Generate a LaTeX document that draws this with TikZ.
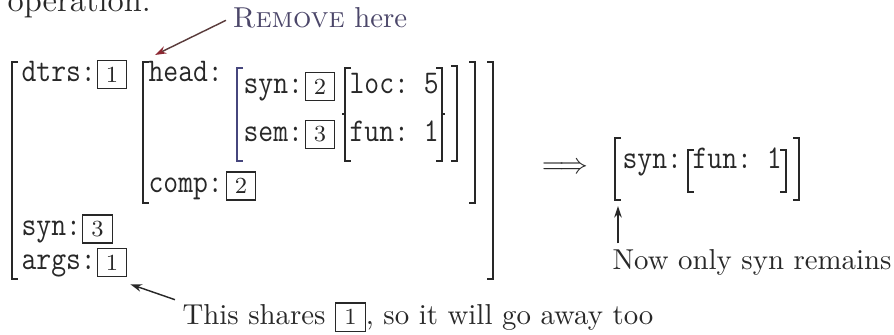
\documentclass[tikz,border=0pt]{standalone}
\usepackage{graphicx}
\usetikzlibrary{arrows.meta}
\definecolor{ink}{RGB}{40,40,40}
\definecolor{slate}{RGB}{70,70,125}
\definecolor{remc}{RGB}{75,70,105}
\definecolor{arrc}{RGB}{90,60,60}
\definecolor{tipc}{RGB}{140,40,50}
\newcommand{\ttsq}[1]{\scalebox{0.87}[1]{\fontsize{11.5}{13}\selectfont\ttfamily\frenchspacing #1}}
\begin{document}
\begin{tikzpicture}[x=0.347pt,y=-0.347pt,
  brk/.style={draw=ink, line width=0.6pt},
  lbl/.style={inner sep=0pt, anchor=base west, text=ink},
  txt/.style={inner sep=0pt, anchor=base west, text=ink},
  tag/.style={draw=ink, line width=0.45pt, inner sep=0pt, minimum width=10.2pt, minimum height=9.8pt, font=\footnotesize, text=ink},
  arr/.style={draw=ink, line width=0.5pt, -{Stealth[length=4pt,width=2.6pt]}}]
\useasboundingbox (0,0) rectangle (894,335);
\begin{scope}
\clip (0,0) rectangle (894,335);
\node[txt, font=\fontsize{11.5}{14}\selectfont] (op) at (7,12) {operation.};
\end{scope}
% annotation top
\node[txt, text=remc] (remove) at (232,28) {\textsc{Remove} here};
\coordinate (rmtip) at (155,55);
\draw[draw=arrc, line width=0.5pt, -{Stealth[length=4pt,width=2.6pt,color=tipc]}] ([shift={(-6,2)}]remove.west) -- (rmtip);
% outer bracket
\draw[brk] (18,62) -- (12,62) -- (12,279) -- (18,279);
\draw[brk] (487,62) -- (493,62) -- (493,279) -- (487,279);
% head/comp bracket
\draw[brk] (149,62) -- (143,62) -- (143,203) -- (149,203);
\draw[brk] (469,62) -- (475,62) -- (475,203) -- (469,203);
% syn/sem bracket
\draw[brk, draw=slate] (243,68) -- (237,68) -- (237,161) -- (243,161);
\draw[brk] (451,66) -- (457,66) -- (457,161) -- (451,161);
% loc/fun bracket
\draw[brk] (351,68) -- (345,68) -- (345,161) -- (351,161);
\draw[brk] (436,68) -- (442,68) -- (442,161) -- (436,161);
\draw[brk] (345,114) -- (342,114);
\draw[brk] (442,114) -- (445,114);
% rows
\node[lbl] (dtrs) at (21,82) {\ttsq{dtrs:}};
\node[tag] (t1) at (112,74.5) {1};
\node[lbl] (head) at (148,82) {\ttsq{head:}};
\node[lbl] (syn) at (243,94) {\ttsq{syn:}};
\node[tag] (t2) at (320,86.5) {2};
\node[lbl] (sem) at (243,142) {\ttsq{sem:}};
\node[tag] (t3) at (320,134.5) {3};
\node[lbl] (loc) at (349,94) {\ttsq{loc: 5}};
\node[lbl] (fun) at (349,142) {\ttsq{fun: 1}};
\node[lbl] (comp) at (148,193) {\ttsq{comp:}};
\node[tag] (t4) at (241,186) {2};
\node[lbl] (syno) at (21,236) {\ttsq{syn:}};
\node[tag] (t5) at (97.5,229) {3};
\node[lbl] (args) at (21,270) {\ttsq{args:}};
\node[tag] (t6) at (112,262.5) {1};
% bottom annotation
\node[txt] (shares) at (182,325) {This shares \tikz[baseline=(b.base)]\node[draw=ink,line width=0.45pt,inner sep=0pt,minimum width=10.2pt,minimum height=10pt,font=\footnotesize] (b) {1};, so it will go away too};
\draw[arr] ([shift={(-7,-2)}]shares.north west) -- ([shift={(3,7)}]t6.south east);
% implication
\node[inner sep=0pt, text=ink] (impl) at (565,168) {$\Longrightarrow$};
% result
\draw[brk] (621,138) -- (615,138) -- (615,200) -- (621,200);
\draw[brk] (793,138) -- (799,138) -- (799,200) -- (793,200);
\draw[brk] (694,150) -- (688,150) -- (688,192) -- (694,192);
\draw[brk] (780,150) -- (786,150) -- (786,192) -- (780,192);
\node[lbl] (rsyn) at (622,169) {\ttsq{syn:}};
\node[lbl] (rfun) at (692,169) {\ttsq{fun: 1}};
\node[txt] (now) at (612,270) {Now only syn remains};
\coordinate (uptip) at (618,206);
\draw[arr] ([shift={(6,-6)}]now.north west) -- (uptip);
\end{tikzpicture}
\end{document}
